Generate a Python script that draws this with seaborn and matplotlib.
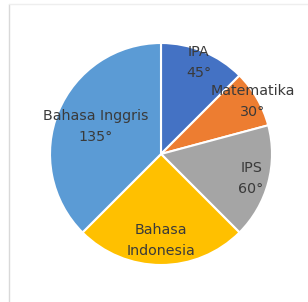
import numpy as np
import matplotlib
matplotlib.use("Agg")
import matplotlib.pyplot as plt
import seaborn as sns
from matplotlib.lines import Line2D

# data
subjects = ["IPA", "Matematika", "IPS", "Bahasa\nIndonesia", "Bahasa Inggris"]
degrees = [45, 30, 60, 90, 135]
show_deg = [True, True, True, False, True]
colors = ["#4472C4", "#ED7D31", "#A5A5A5", "#FFC000", "#5B9BD5"]
label_dist = [0.89, 0.95, 0.84, 0.78, 0.64]

sns.set_style("white")
plt.rcParams["font.family"] = ["DejaVu Sans"]

fig = plt.figure(figsize=(3.08, 3.02), dpi=100)
W, H = 308, 302
cx, cy, r = 161, 154, 111
ax = fig.add_axes([(cx - r) / W, (H - cy - r) / H, 2 * r / W, 2 * r / H])

wedges, _ = ax.pie(degrees, colors=colors, startangle=90, counterclock=False,
                   wedgeprops=dict(edgecolor="white", linewidth=1.5))

for w, name, d, show, dist in zip(wedges, subjects, degrees, show_deg, label_dist):
    ang = np.deg2rad((w.theta1 + w.theta2) / 2)
    x, y = dist * np.cos(ang), dist * np.sin(ang)
    txt = f"{name}\n{d}\u00b0" if show else name
    ax.text(x, y, txt, ha="center", va="center", fontsize=10.3,
            color="#3a3a3a", linespacing=1.65)

ax.set_xlim(-1, 1)
ax.set_ylim(-1, 1)
ax.set_aspect("equal")
ax.axis("off")

# chart area border (partially visible)
fig.add_artist(Line2D([9 / W, 9 / W], [0, 1 - 4 / H], color="#d9d9d9", lw=1))
fig.add_artist(Line2D([9 / W, 1], [1 - 4 / H, 1 - 4 / H], color="#eeeeee", lw=1))

fig.savefig("out.png", dpi=100)
